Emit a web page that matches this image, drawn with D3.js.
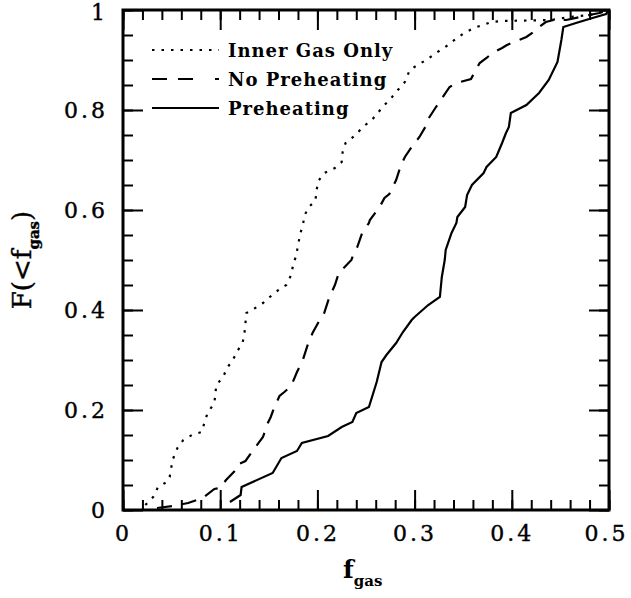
<!DOCTYPE html>
<html>
<head>
<meta charset="utf-8">
<script src="https://cdn.jsdelivr.net/npm/d3@7"></script>
<style>
  body { margin: 0; background: #fff; }
  text { font-family: "DejaVu Serif", serif; fill: #000; }
</style>
</head>
<body>
<div id="chart"></div>
<script>
// cumulative distributions of f_gas
var innerF   = [0.023,0.031,0.036,0.045,0.048,0.051,0.056,0.062,0.071,0.081,0.084,0.087,0.094,0.096,0.103,0.107,0.113,0.117,0.123,0.125,0.127,0.136,0.144,0.151,0.160,0.168,0.173,0.175,0.178,0.180,0.182,0.185,0.187,0.191,0.198,0.199,0.201,0.207,0.218,0.225,0.226,0.229,0.238,0.248,0.256,0.262,0.269,0.276,0.281,0.290,0.295,0.303,0.312,0.322,0.333,0.341,0.351,0.361,0.370,0.379,0.39,0.44,0.46,0.48,0.5];
var innerCdf = [0.010,0.026,0.046,0.056,0.066,0.100,0.124,0.140,0.150,0.156,0.176,0.194,0.214,0.250,0.266,0.284,0.300,0.316,0.334,0.354,0.394,0.404,0.414,0.426,0.440,0.450,0.470,0.490,0.508,0.528,0.550,0.570,0.590,0.606,0.618,0.638,0.658,0.674,0.684,0.696,0.716,0.734,0.748,0.768,0.780,0.794,0.810,0.824,0.836,0.856,0.880,0.890,0.900,0.914,0.928,0.940,0.954,0.964,0.970,0.976,0.978,0.980,0.986,0.990,1.0];

var noPreF   = [0.035,0.051,0.067,0.082,0.094,0.100,0.106,0.115,0.117,0.126,0.134,0.144,0.149,0.152,0.155,0.161,0.166,0.173,0.179,0.185,0.190,0.195,0.203,0.207,0.212,0.218,0.222,0.224,0.235,0.238,0.241,0.246,0.253,0.254,0.264,0.269,0.274,0.281,0.286,0.290,0.297,0.305,0.311,0.312,0.322,0.327,0.336,0.343,0.358,0.363,0.367,0.374,0.380,0.390,0.395,0.415,0.421,0.428,0.435,0.443,0.456,0.47,0.49,0.5];
var noPreCdf = [0.004,0.008,0.014,0.024,0.042,0.044,0.060,0.078,0.090,0.098,0.120,0.146,0.174,0.186,0.202,0.228,0.236,0.248,0.276,0.300,0.330,0.354,0.382,0.394,0.424,0.450,0.474,0.478,0.500,0.516,0.526,0.554,0.574,0.580,0.606,0.624,0.632,0.660,0.690,0.706,0.726,0.746,0.766,0.776,0.806,0.820,0.846,0.854,0.862,0.880,0.894,0.904,0.914,0.924,0.930,0.946,0.954,0.966,0.976,0.980,0.980,0.986,0.994,1.0];

var preF     = [0.110,0.121,0.122,0.154,0.163,0.179,0.184,0.211,0.225,0.236,0.240,0.253,0.261,0.266,0.271,0.281,0.288,0.297,0.300,0.314,0.326,0.328,0.331,0.332,0.338,0.343,0.344,0.352,0.354,0.359,0.371,0.374,0.384,0.390,0.394,0.397,0.399,0.415,0.428,0.438,0.447,0.451,0.453,0.466,0.483,0.497,0.5];
var preCdf   = [0.016,0.030,0.046,0.074,0.104,0.118,0.134,0.148,0.166,0.176,0.194,0.206,0.256,0.296,0.310,0.334,0.356,0.380,0.386,0.410,0.426,0.466,0.500,0.520,0.554,0.574,0.586,0.606,0.630,0.650,0.674,0.686,0.706,0.734,0.754,0.766,0.794,0.810,0.834,0.860,0.896,0.940,0.966,0.974,0.984,0.992,1.0];

var legendNames = ["Inner Gas Only", "No Preheating", "Preheating"];
var xTicks = [0, 0.1, 0.2, 0.3, 0.4, 0.5];
var yTicks = [0, 0.2, 0.4, 0.6, 0.8, 1];

var svg = d3.select("#chart").append("svg")
    .attr("width", 631)
    .attr("height", 598);

var x = d3.scaleLinear().domain([0, 0.5]).range([123, 609]);
var y = d3.scaleLinear().domain([0, 1]).range([510, 10]);

var fmt = d3.format("~g");
var xMinor = d3.range(0, 0.5001, 0.02);
var yMinor = d3.range(0, 1.0001, 0.05);

// minor ticks, all four sides, pointing in
svg.append("g").attr("transform", "translate(0,510)")
    .call(d3.axisBottom(x).tickValues(xMinor).tickSize(-10).tickFormat(""));
svg.append("g").attr("transform", "translate(0,10)")
    .call(d3.axisTop(x).tickValues(xMinor).tickSize(-10).tickFormat(""));
svg.append("g").attr("transform", "translate(123,0)")
    .call(d3.axisLeft(y).tickValues(yMinor).tickSize(-10).tickFormat(""));
svg.append("g").attr("transform", "translate(609,0)")
    .call(d3.axisRight(y).tickValues(yMinor).tickSize(-10).tickFormat(""));

// major ticks with labels
svg.append("g").attr("class", "xmaj").attr("transform", "translate(0,510)")
    .call(d3.axisBottom(x).tickValues(xTicks).tickSize(-20).tickPadding(11).tickFormat(fmt));
svg.append("g").attr("transform", "translate(0,10)")
    .call(d3.axisTop(x).tickValues(xTicks).tickSize(-20).tickFormat(""));
svg.append("g").attr("class", "ymaj").attr("transform", "translate(123,0)")
    .call(d3.axisLeft(y).tickValues(yTicks).tickSize(-20).tickPadding(15).tickFormat(fmt));
svg.append("g").attr("transform", "translate(609,0)")
    .call(d3.axisRight(y).tickValues(yTicks).tickSize(-20).tickFormat(""));

svg.selectAll(".domain").remove();
svg.selectAll(".tick line").attr("stroke", "#000").attr("stroke-width", 2);
svg.selectAll(".xmaj text, .ymaj text")
    .style("font-family", "DejaVu Serif, serif")
    .style("font-size", "22px")
    .style("letter-spacing", "3px")
    .attr("fill", "#000")
    .attr("stroke", "#000")
    .attr("stroke-width", 0.4);
svg.selectAll(".xmaj text").attr("dy", "0.9em");
svg.selectAll(".ymaj text").attr("dy", "0.36em");
// keep the corner labels inside the page
svg.selectAll(".xmaj .tick:last-child text").attr("dx", -3);
svg.selectAll(".ymaj .tick:last-child text").attr("dy", "0.45em");

// frame
svg.append("rect")
    .attr("x", 123).attr("y", 10)
    .attr("width", 486).attr("height", 500)
    .attr("fill", "none").attr("stroke", "#000").attr("stroke-width", 3);

var line = d3.line()
    .x(function(d) { return x(d[0]); })
    .y(function(d) { return y(d[1]); });

var series = [
    { xs: innerF, ys: innerCdf, dash: "2.5,7",  legDash: "2.5,7" },
    { xs: noPreF, ys: noPreCdf, dash: "15,10",  legDash: "15,11,15,22,4" },
    { xs: preF,   ys: preCdf,   dash: null,     legDash: null }
];

series.forEach(function(s) {
    svg.append("path")
        .datum(d3.zip(s.xs, s.ys))
        .attr("d", line)
        .attr("fill", "none")
        .attr("stroke", "#000")
        .attr("stroke-width", 2.2)
        .attr("stroke-dasharray", s.dash);
});

// legend
var leg = svg.append("g");
legendNames.forEach(function(name, i) {
    var ly = 50 + i * 29;
    leg.append("line")
        .attr("x1", 152).attr("x2", 219)
        .attr("y1", ly).attr("y2", ly)
        .attr("stroke", "#000").attr("stroke-width", 2.2)
        .attr("stroke-dasharray", series[i].legDash);
    leg.append("text")
        .attr("x", 228).attr("y", ly + 7)
        .style("font-size", "18px")
        .style("font-weight", "bold")
        .style("letter-spacing", "1px")
        .text(name);
});

// axis titles
var xt = svg.append("text")
    .attr("x", 343).attr("y", 578)
    .style("font-size", "25px")
    .style("font-weight", "bold");
xt.append("tspan").text("f");
xt.append("tspan").attr("dy", 8).style("font-size", "15px").text("gas");

var yt = svg.append("text")
    .attr("transform", "translate(31,260) rotate(-90)")
    .attr("text-anchor", "middle")
    .attr("stroke", "#000").attr("stroke-width", 0.4)
    .style("font-size", "26px");
yt.append("tspan").text("F(<f");
yt.append("tspan").attr("dy", 8).style("font-size", "15px").style("font-weight", "bold").text("gas");
yt.append("tspan").attr("dy", -8).text(")");
</script>
</body>
</html>
